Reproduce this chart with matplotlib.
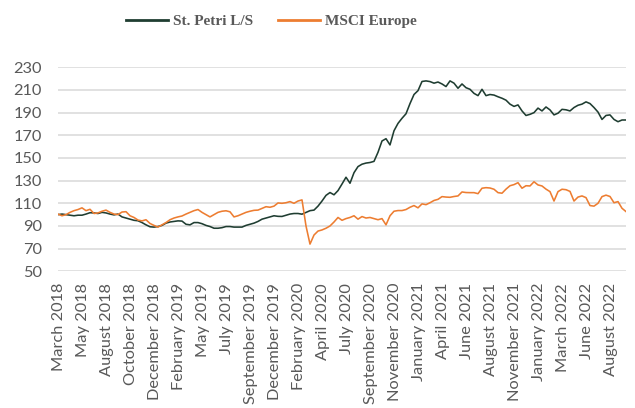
import numpy as np
import matplotlib
matplotlib.use("Agg")
import matplotlib.pyplot as plt

st_petri = [
    100, 100.5, 100, 99.5, 99, 99.5, 99.5, 100.5, 101.7, 101.5,
    101, 102, 101.5, 100.5, 99.8, 100.5, 98, 97, 96, 95,
    94.6, 93, 91, 89.3, 89, 89.5, 90.5, 92.5, 93.5, 94,
    94.5, 94.3, 91.5, 91, 93, 93, 92, 90.5, 89.5, 88,
    88, 88.5, 89.5, 89.5, 89, 89, 89, 90.5, 91.5, 92.5,
    94, 96, 97, 98, 99, 98.5, 98.4, 99.5, 100.5, 101,
    101, 100.4, 102, 103.5, 104, 107.5, 112, 117, 119.5, 117.5,
    121.2, 127, 133, 127.7, 137, 142.4, 144.5, 145.5, 146, 147,
    155, 165, 167, 161.5, 174, 180.5, 185, 189, 198, 206,
    209.4, 217.5, 218, 217.4, 216, 217, 215.3, 213, 218, 216,
    211.5, 215.3, 212, 210.6, 207, 205, 210.6, 205, 206, 205.5,
    204, 202.7, 201, 197.5, 195.5, 196.8, 191.5, 187.5, 188.5, 190,
    194, 191.5, 195, 192.4, 188, 189.5, 192.9, 192.5, 191.5, 194.5,
    196.5, 197.5, 199.5, 198, 194.5, 190.5, 184, 187.5, 188, 184,
    182, 183.5, 183.5,
]
msci_europe = [
    100.5, 99, 100, 102, 103.5, 104.5, 106, 103.5, 104.7, 101,
    101.5, 103, 104, 102, 100.5, 100, 102.3, 102.6, 99, 97.5,
    95.2, 94.5, 95.5, 92.2, 90.5, 89, 91, 93, 95.5, 97,
    98, 98.8, 100.5, 102, 103.5, 104.5, 102, 100, 98, 100,
    102, 103, 103.4, 102.5, 98, 99, 100.5, 102, 103, 103.8,
    104, 105.5, 107, 106.5, 107.5, 110.3, 110, 110.5, 111.5, 110,
    112, 113, 90, 74, 82, 85.5, 86.5, 88, 90, 93.5,
    97.5, 95, 96.5, 97.5, 99, 96, 98.3, 97, 97.5, 96.5,
    95.5, 96.5, 91, 99, 103, 103.6, 103.6, 104.5, 106.5, 108,
    106, 109.5, 108.8, 110.5, 112.5, 113.5, 115.9, 115.5, 115.3, 116,
    116.5, 120, 119.5, 119.4, 119.4, 118.5, 123.3, 123.8, 123.5, 122.4,
    119.4, 118.9, 122.5, 125.5, 126.5, 128.2, 123.3, 125.5, 125.3, 129,
    126.2, 125.3, 122.5, 120.3, 112, 120.3, 122.4, 122, 120.5, 112,
    115.5, 116.5, 115, 108, 107.5, 110, 115.9, 117.2, 116, 110.5,
    111.5, 105.6, 102.7,
]
tick_labels = [
    "March 2018", "May 2018", "August 2018", "October 2018", "December 2018",
    "February 2019", "May 2019", "July 2019", "September 2019", "December 2019",
    "February 2020", "April 2020", "July 2020", "September 2020", "November 2020",
    "January 2021", "April 2021", "June 2021", "August 2021", "November 2021",
    "January 2022", "March 2022", "June 2022", "August 2022",
]
series_names = ["St. Petri L/S", "MSCI Europe"]
y_ticks = list(range(50, 231, 20))

# ---- figure ----
fig = plt.figure(figsize=(6.35, 4.08), dpi=100)
ax = fig.add_axes([58 / 635, 1 - 271.3 / 408, 568 / 635, 204 / 408])

x = np.arange(len(st_petri))
green = "#1f3d31"
orange = "#ED7D31"
ax.plot(x, st_petri, color=green, lw=1.15, label=series_names[0], zorder=3)
ax.plot(x, msci_europe, color=orange, lw=1.15, label=series_names[1], zorder=3)

ax.set_xlim(0, len(st_petri) - 1)
ax.set_ylim(50, 230)
ax.set_yticks(y_ticks)
ax.grid(axis="y", color="#d9d9d9", lw=1.1, zorder=0)
ax.set_axisbelow(True)
for s in ax.spines.values():
    s.set_visible(False)

tick_step = (len(st_petri) - 1) * 24.02 / 568
tick_pos = 0.25 + tick_step * np.arange(len(tick_labels))
ax.set_xticks(tick_pos)
ax.set_xticklabels(tick_labels, rotation=90, ha="center", va="top")

for lab in ax.get_xticklabels() + ax.get_yticklabels():
    lab.set_fontfamily("Lato")
    lab.set_fontsize(11.8)
    lab.set_color("#595959")
ax.tick_params(axis="y", length=0, pad=11.5)
ax.tick_params(axis="x", length=0, pad=8.4)

leg = fig.legend(
    loc="center", bbox_to_anchor=(271.5 / 635, 1 - 21.5 / 408),
    ncol=2, frameon=False, handlelength=2.76, handletextpad=0.33,
    columnspacing=1.64, prop=dict(family="Liberation Serif", weight="bold", size=11),
)
for t in leg.get_texts():
    t.set_color("#595959")
for h in leg.get_lines():
    h.set_linewidth(2.0)

fig.savefig("out.png", dpi=100)
